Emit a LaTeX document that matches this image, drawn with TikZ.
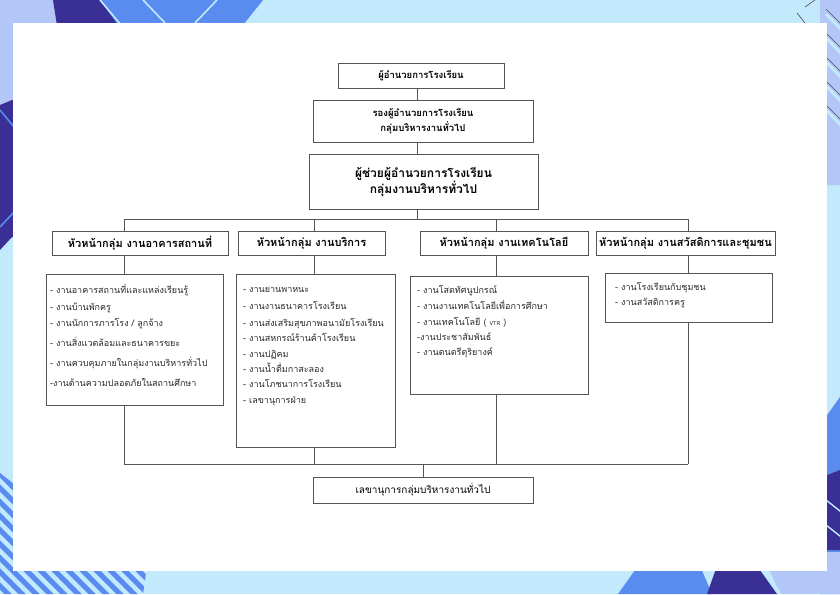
\documentclass[tikz,border=0pt]{standalone}
\usepackage{fontspec}
\newfontfamily\thai[Script=Thai]{Loma}
\definecolor{bgblue}{HTML}{C3E9FD}
\definecolor{peri}{HTML}{B2C7F8}
\definecolor{navy}{HTML}{3A2F95}
\definecolor{midblue}{HTML}{5A8CF0}
\definecolor{linegray}{HTML}{555555}
\definecolor{txt}{HTML}{2A2A2A}
\tikzset{
  box/.style={draw=linegray, line width=0.9pt, fill=white, inner sep=0pt, align=center, text=black},
  conn/.style={draw=linegray, line width=0.9pt},
  item/.style={anchor=base west, inner sep=0pt, text=txt, font=\thai\fontsize{9}{11}\selectfont},
  headbox/.style={box, minimum height=24, font=\thai\bfseries\fontsize{11}{13}\selectfont},
  listbox/.style={draw=linegray, line width=0.9pt, fill=white, inner sep=0pt}
}
\newcommand\itm[4]{\node[item] (#1) at (#2,#3) {#4};}
\begin{document}
\begin{tikzpicture}[x=1pt,y=-1pt]
\useasboundingbox (0,0) rectangle (840,594);
% ---------- background ----------
\fill[bgblue] (0,0) rectangle (840,594);
% top-left
\fill[peri] (0,0) rectangle (110,110);
\fill[navy] (53,0) -- (100,0) -- (140,45) -- (60,45) -- cycle;
\fill[navy] (0,105) -- (12,100) -- (40,100) -- (40,237) -- (12,237) -- (0,250) -- cycle;
\fill[midblue] (100,0) -- (263,0) -- (243,25) -- (118,25) -- cycle;
\draw[bgblue, line width=1.6pt] (100,0) -- (121,25);
\draw[bgblue, line width=1.6pt] (143,0) -- (167,25);
\draw[bgblue, line width=1.6pt] (217,0) -- (193,25);
\draw[midblue, line width=1.6pt] (0,110) -- (14,127);
\draw[midblue, line width=1.6pt] (0,227) -- (14,212);
% top-right
\fill[peri] (797,0) -- (840,0) -- (840,185) -- (820,185) -- (820,0) -- cycle;
\foreach \yy in {9,33,57,81,105}{
  \draw[bgblue, line width=3pt] (826,\yy+5) -- (845,\yy+24);
  \draw[black!70, line width=0.6pt] (826,\yy) -- (845,\yy+19);
}
\draw[black!70, line width=0.6pt] (797,13) -- (805,23);
\draw[black!70, line width=0.6pt] (805,7) -- (815,0);
% right lower
\fill[midblue] (820,425) -- (840,397) -- (840,594) -- (820,594) -- cycle;
\fill[navy] (820,478) -- (840,470) -- (840,550) -- (820,550) -- cycle;
\draw[bgblue, line width=1.4pt] (826,500) -- (845,515);
\draw[bgblue, line width=1.4pt] (826,525) -- (845,540);
\fill[peri] (820,552) -- (840,552) -- (840,594) -- (780,594) -- (770,571) -- (820,571) -- cycle;
% bottom right
\fill[midblue] (638,566) -- (700,566) -- (712,594) -- (618,594) -- cycle;
\fill[navy] (717,566) -- (757,566) -- (777,594) -- (707,594) -- cycle;
\draw[bgblue, line width=1.4pt] (762,566) -- (781,594);
% bottom-left stripes
\begin{scope}
  \clip (0,473) -- (14,484) -- (14,566) -- (147,566) -- (143,594) -- (0,594) -- cycle;
  \fill[bgblue] (0,440) rectangle (160,594);
  \foreach \k in {0,...,30}{
    \draw[midblue, line width=5pt] (\k*14-160,440) -- ++(200,200);
  }
\end{scope}
% white panel
\fill[white] (12.5,23) rectangle (827,571);
% ---------- top chain ----------
\coordinate (spine) at (417,219);
\node[box, minimum width=166, minimum height=25, font=\thai\bfseries\fontsize{9.5}{11}\selectfont] (b1) at (421,75.5) {ผู้อำนวยการโรงเรียน};
\node[box, minimum width=220, minimum height=42, font=\thai\bfseries\fontsize{9.5}{15}\selectfont] (b2) at (423,121) {รองผู้อำนวยการโรงเรียน\\กลุ่มบริหารงานทั่วไป};
\node[box, minimum width=229, minimum height=55, font=\thai\bfseries\fontsize{12}{16}\selectfont] (b3) at (423.5,181.5) {ผู้ช่วยผู้อำนวยการโรงเรียน\\กลุ่มงานบริหารทั่วไป};
% ---------- heads ----------
\node[headbox, minimum width=176] (h1) at (140,243) {หัวหน้ากลุ่ม งานอาคารสถานที่};
\node[headbox, minimum width=147] (h2) at (311.5,243) {หัวหน้ากลุ่ม งานบริการ};
\node[headbox, minimum width=168] (h3) at (504,243) {หัวหน้ากลุ่ม งานเทคโนโลยี};
\node[headbox, minimum width=179] (h4) at (685.5,243) {หัวหน้ากลุ่ม งานสวัสดิการและชุมชน};
% ---------- lists ----------
\node[listbox, minimum width=177, minimum height=131] (d1) at (134.5,339.5) {};
\node[listbox, minimum width=159, minimum height=173] (d2) at (315.5,360.5) {};
\node[listbox, minimum width=178, minimum height=118] (d3) at (499,335) {};
\node[listbox, minimum width=167, minimum height=49] (d4) at (688.5,297.5) {};
% ---------- bottom ----------
\node[box, minimum width=220, minimum height=26, font=\thai\fontsize{10}{12}\selectfont] (bt) at (423,490) {เลขานุการกลุ่มบริหารงานทั่วไป};
% ---------- connectors ----------
\coordinate (busL) at (124,219);
\coordinate (busR) at (688,219);
\coordinate (c2) at (314,219);
\coordinate (c3) at (496,219);
\coordinate (lowL) at (124,464);
\coordinate (lowR) at (688,464);
\coordinate (lowM) at (423,464);
\draw[conn] (b1.south -| spine) -- (b2.north -| spine);
\draw[conn] (b2.south -| spine) -- (b3.north -| spine);
\draw[conn] (b3.south -| spine) -- (spine);
\draw[conn] (busL) -- (busR);
\draw[conn] (busL) -- (h1.north -| busL);
\draw[conn] (c2) -- (h2.north -| c2);
\draw[conn] (c3) -- (h3.north -| c3);
\draw[conn] (busR) -- (h4.north -| busR);
\draw[conn] (h1.south -| busL) -- (d1.north -| busL);
\draw[conn] (h2.south -| c2) -- (d2.north -| c2);
\draw[conn] (h3.south -| c3) -- (d3.north -| c3);
\draw[conn] (h4.south -| busR) -- (d4.north -| busR);
\draw[conn] (d1.south -| lowL) -- (lowL);
\draw[conn] (d2.south -| c2) -- (c2 |- lowL);
\draw[conn] (d3.south -| c3) -- (c3 |- lowL);
\draw[conn] (d4.south -| lowR) -- (lowR);
\draw[conn] (lowL) -- (lowR);
\draw[conn] (lowM) -- (bt.north -| lowM);
% ---------- list items ----------
\itm{a1}{50}{293}{- งานอาคารสถานที่และแหล่งเรียนรู้}
\itm{a2}{50}{310}{- งานบ้านพักครู}
\itm{a3}{50}{326}{- งานนักการภารโรง / ลูกจ้าง}
\itm{a4}{50}{346}{- งานสิ่งแวดล้อมและธนาคารขยะ}
\itm{a5}{50}{366}{- งานควบคุมภายในกลุ่มงานบริหารทั่วไป}
\itm{a6}{50}{386}{-งานด้านความปลอดภัยในสถานศึกษา}
\itm{s1}{243}{292}{- งานยานพาหนะ}
\itm{s2}{243}{309}{- งานงานธนาคารโรงเรียน}
\itm{s3}{243}{326}{- งานส่งเสริมสุขภาพอนามัยโรงเรียน}
\itm{s4}{243}{341}{- งานสหกรณ์ร้านค้าโรงเรียน}
\itm{s5}{243}{357}{- งานปฏิคม}
\itm{s6}{243}{372}{- งานน้ำดื่มกาสะลอง}
\itm{s7}{243}{387}{- งานโภชนาการโรงเรียน}
\itm{s8}{243}{403}{- เลขานุการฝ่าย}
\itm{t1}{417}{293}{- งานโสตทัศนูปกรณ์}
\itm{t2}{417}{309}{- งานงานเทคโนโลยีเพื่อการศึกษา}
\itm{t3}{417}{325}{- งานเทคโนโลยี ( {\fontsize{5.5}{6}\selectfont VTR} )}
\itm{t4}{417}{340}{-งานประชาสัมพันธ์}
\itm{t5}{417}{355}{- งานดนตรีดุริยางค์}
\itm{w1}{615}{290}{- งานโรงเรียนกับชุมชน}
\itm{w2}{615}{305}{- งานสวัสดิการครู}
\end{tikzpicture}
\end{document}
